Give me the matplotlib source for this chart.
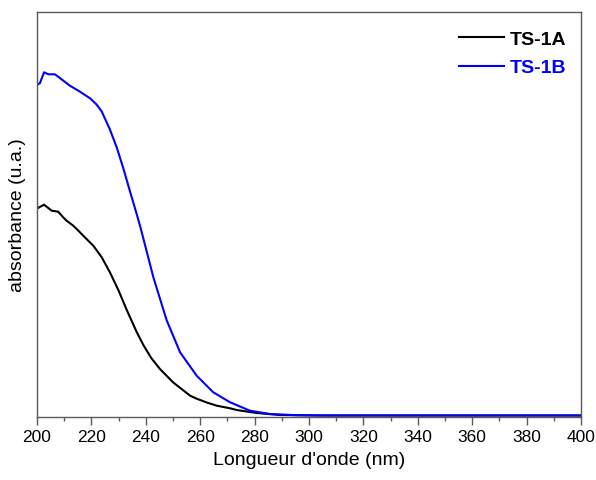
import numpy as np
import matplotlib as mpl
mpl.use('Agg')
import matplotlib.pyplot as plt
import matplotlib.ticker as ticker

######################
## data (arbitrary units)
######################

wl_A = [200.0, 202.6, 205.4, 207.8, 209.7, 210.9, 213.3, 214.6, 217.0, 220.7,
        223.8, 226.8, 229.9, 233.0, 236.7, 239.1, 242.0, 245.2, 250.1,
        256.3, 258.7, 262.4, 266.1, 271.0, 273.4, 280.8, 289.3, 302.8,
        320.0, 360.0, 400.0]
abs_A = [207.0, 210.8, 204.8, 203.8, 198.0, 194.8, 189.8, 186.5, 179.8, 169.8,
         158.2, 143.2, 125.5, 105.5, 83.2, 70.5, 57.5, 46.5, 33.0,
         19.8, 16.8, 13.0, 9.8, 7.2, 5.5, 2.5, 0.5, 0.0,
         0.0, 0.0, 0.0]

wl_B = [200.0, 201.1, 202.6, 204.2, 206.6, 209.7, 212.1, 215.8, 219.5, 221.9,
        223.8, 226.8, 229.3, 231.7, 234.2, 236.7, 238.1, 242.8, 247.7, 252.6,
        258.7, 264.8, 271.0, 278.3, 285.7, 295.5, 307.7, 350.0, 400.0]
abs_B = [330.5, 332.5, 343.2, 341.2, 341.2, 334.8, 329.8, 323.8, 317.2, 311.0,
         304.0, 286.0, 268.2, 247.5, 224.0, 201.0, 187.5, 138.0, 95.0, 63.2,
         39.8, 23.2, 13.2, 4.8, 1.5, 0.3, 0.0, 0.0, 0.0]

labels = ['TS-1A', 'TS-1B']
colors = ['black', '#0000ff']

######################
## setup plot
######################

plt.rcParams['font.family'] = ['Liberation Sans', 'DejaVu Sans']

fig = plt.figure(figsize=(5.96, 4.81), dpi=100)
ax = fig.add_axes([37 / 596, 63 / 481, 544 / 596, 405 / 481])

ax.plot(wl_A, abs_A, color=colors[0], lw=1.5, label=labels[0])
ax.plot(wl_B, abs_B, color=colors[1], lw=1.5, label=labels[1])

ax.set_xlim(200, 400)
ax.set_ylim(-1.5, 403.5)

######################
## axes style
######################

for sp in ax.spines.values():
    sp.set_color('#5a5a5a')
    sp.set_linewidth(1.0)

ax.xaxis.set_major_locator(ticker.MultipleLocator(20))
ax.xaxis.set_minor_locator(ticker.MultipleLocator(10))
ax.tick_params(axis='x', which='major', direction='out', length=6, width=1,
               color='#5a5a5a', labelsize=12.5, pad=3)
ax.tick_params(axis='x', which='minor', direction='out', length=3, width=1,
               color='#5a5a5a')
ax.set_yticks([])

ax.set_xlabel("Longueur d'onde (nm)", fontsize=14, labelpad=5)
ax.set_ylabel('absorbance (u.a.)', fontsize=14, labelpad=8)

leg = ax.legend(loc='upper right', bbox_to_anchor=(0.998, 0.988), frameon=False,
                prop={'weight': 'bold', 'size': 14}, handlelength=2.3,
                handletextpad=0.3, labelspacing=0.55, borderaxespad=0.3)
for txt, c in zip(leg.get_texts(), colors):
    txt.set_color(c)

plt.savefig('out.png', dpi=100)
